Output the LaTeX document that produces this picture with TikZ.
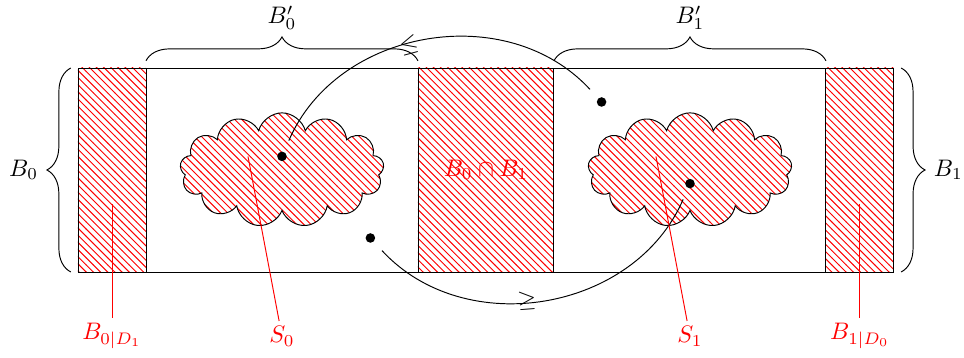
\documentclass[tikz,border=0pt]{standalone}
\usepackage{tikz}
\usepackage{amsmath,amssymb}
\usetikzlibrary{patterns, shapes.symbols, decorations.pathreplacing, calc}

\begin{document}
\begin{tikzpicture}[
  hatched/.style={draw, pattern=north west lines, pattern color=red},
  dot/.style={circle, fill, inner sep=0pt, minimum size=4pt},
  bracedeco/.style={decorate, decoration={brace, amplitude=10pt, raise=3pt}},
  tag/.style={red, anchor=north, inner sep=2pt},
  blob/.style={cloud, cloud puffs=13, aspect=1.8, hatched, minimum width=3cm, minimum height=1.68cm}
]
  \useasboundingbox (-1.147,-1.265) rectangle (13.03,4.0);

  % the two blocks and their overlap
  \draw (0,0) rectangle (12,3);
  \draw[hatched] (0,0) rectangle (1,3);
  \draw[hatched] (5,0) rectangle (7,3);
  \draw[hatched] (11,0) rectangle (12,3);
  \node[red] (cap) at (6,1.5) {$B_0\cap B_1$};

  % clouds
  \node[blob] (S0) at (3,1.5) {};
  \node[blob] (S1) at (9,1.5) {};

  % points
  \node[dot] (a) at (3,1.7) {};
  \node[dot] (b) at (7.7,2.5) {};
  \node[dot] (c) at (4.3,0.5) {};
  \node[dot] (d) at (9,1.3) {};

  % comparisons
  \draw[shorten <=5pt, shorten >=5pt] (a) to[bend left=57, looseness=1.08] node[sloped, pos=0.45] {$\leq$} (b);
  \draw[shorten <=5pt, shorten >=5pt] (c) to[bend right=57, looseness=1.08] node[sloped, pos=0.45] {$\geq$} (d);

  % braces
  \draw[bracedeco] (1,3) -- (5,3);
  \draw[bracedeco] (7,3) -- (11,3);
  \draw[bracedeco] (0,0) -- (0,3);
  \draw[bracedeco] (12,3) -- (12,0);
  \node (b0p) at (3,3.74) {$B_0'$};
  \node (b1p) at (9,3.74) {$B_1'$};
  \node (b0) at (-0.8,1.5) {$B_0$};
  \node (b1) at (12.8,1.5) {$B_1$};

  % labels below
  \coordinate (p0) at (0.5,1);
  \coordinate (q0) at (2.5,1.7);
  \coordinate (q1) at (8.5,1.7);
  \coordinate (p1) at (11.5,1);
  \node[tag] (l0) at (0.5,-0.68) {$B_{0|D_1}$};
  \node[tag] (m0) at (3,-0.72) {$S_0$};
  \node[tag] (m1) at (9,-0.72) {$S_1$};
  \node[tag] (l1) at (11.5,-0.68) {$B_{1|D_0}$};
  \draw[red] (p0) -- (l0);
  \draw[red] (q0) -- (m0);
  \draw[red] (q1) -- (m1);
  \draw[red] (p1) -- (l1);
\end{tikzpicture}
\end{document}
